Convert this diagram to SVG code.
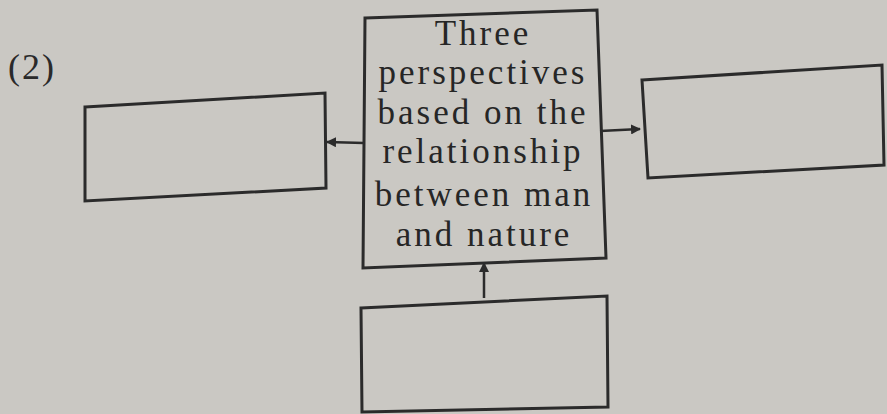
<svg xmlns="http://www.w3.org/2000/svg" width="887" height="414" viewBox="0 0 887 414">
<style>
.box{fill:none;stroke:#2b2b2b;stroke-width:3}
.conn{fill:none;stroke:#2b2b2b;stroke-width:2.5}
.t{font-family:"Liberation Serif","Times New Roman",serif;font-size:35px;letter-spacing:3px;fill:#262626;text-anchor:middle}
</style>
<defs>
<marker id="ah" viewBox="0 0 10 10" refX="9" refY="5" markerWidth="4" markerHeight="4" orient="auto" markerUnits="strokeWidth">
<path d="M0,0 L10,5 L0,10 z" fill="#2b2b2b"/>
</marker>
</defs>
<rect width="887" height="414" fill="#cac8c3"/>
<text x="8" y="79" font-family="Liberation Serif, serif" font-size="36" letter-spacing="2" fill="#2a2a2a">(2)</text>
<g id="connectors">
<line class="conn" x1="364" y1="143" x2="327" y2="142" marker-end="url(#ah)"/>
<line class="conn" x1="600" y1="131" x2="640" y2="129" marker-end="url(#ah)"/>
<line class="conn" x1="484" y1="298" x2="484" y2="263" marker-end="url(#ah)"/>
</g>
<g id="center">
<polygon class="box" points="365,18 597,10 606,258 363,268"/>
<text class="t" x="483" y="45">Three</text>
<text class="t" x="483" y="84">perspectives</text>
<text class="t" x="483" y="124">based on the</text>
<text class="t" x="483" y="163">relationship</text>
<text class="t" x="484" y="206">between man</text>
<text class="t" x="484" y="246">and nature</text>
</g>
<g id="left">
<polygon class="box" points="85,107 325,93 326,188 85,201"/>
</g>
<g id="right">
<polygon class="box" points="642,80 882,65 884,165 648,178"/>
</g>
<g id="bottom">
<polygon class="box" points="361,308 607,296 608,407 362,412"/>
</g>
</svg>
